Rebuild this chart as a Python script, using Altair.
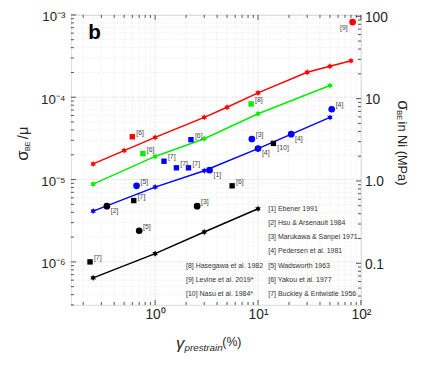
import math
import altair as alt
import pandas as pd

# ---------------- data ----------------
red_x = [0.25, 0.5, 1, 3, 5, 10, 30, 50, 80]
red_y = [1.55e-5, 2.25e-5, 3.25e-5, 5.7e-5, 7.55e-5, 1.13e-4, 2.01e-4, 2.38e-4, 2.77e-4]
green_x = [0.25, 1, 3, 10, 50]
green_y = [8.8e-6, 1.91e-5, 3.13e-5, 6.3e-5, 1.39e-4]
blue_x = [0.25, 1, 3, 10, 50]
blue_y = [4.14e-6, 8.1e-6, 1.28e-5, 2.38e-5, 5.69e-5]
black_x = [0.25, 1, 3, 10]
black_y = [6.4e-7, 1.26e-6, 2.31e-6, 4.42e-6]

circle_x = [83, 3.38, 10, 21, 52, 8.7, 0.66, 0.34, 0.70, 2.56]
circle_y = [8.18e-4, 1.30e-5, 2.38e-5, 3.56e-5, 7.15e-5, 3.11e-5, 8.39e-6, 4.75e-6, 2.39e-6, 4.75e-6]
circle_ref = ["[9]", "[1]", "[4]", "[4]", "[4]", "[3]", "[5]", "[2]", "[5]", "[3]"]
circle_color = ["red", "blue", "blue", "blue", "blue", "blue", "blue", "black", "black", "black"]
circle_side = ["LL", "LR", "LR", "LR", "UR", "UR", "UR", "LR", "UR", "UR"]

square_x = [0.60, 0.76, 8.57, 2.23, 1.22, 1.61, 2.11, 0.233, 0.62, 5.6, 14.1]
square_y = [3.31e-5, 2.07e-5, 8.28e-5, 3.05e-5, 1.67e-5, 1.39e-5, 1.39e-5, 1.0e-6, 5.56e-6, 8.4e-6, 2.75e-5]
square_ref = ["[6]", "[6]", "[8]", "[6]", "[7]", "[7]", "[7]", "[7]", "[7]", "[6]", "[10]"]
square_color = ["red", "green", "green", "blue", "blue", "blue", "blue", "black", "black", "black", "black"]
square_side = ["UR", "UR", "UR", "UR", "UR", "UR", "UR", "UR", "UR", "UR", "LR"]

legend_right = ["[1] Ebener 1991", "[2] Hsu & Arsenault 1984", "[3] Marukawa & Sanpei 1971",
                "[4] Pedersen et al. 1981", "[5] Wadsworth 1963", "[6] Yakou et al. 1977",
                "[7] Buckley & Entwistle 1956"]
legend_left = ["[8] Hasegawa et al. 1982", "[9] Levine et al. 2019*", "[10] Nasu et al. 1984*"]

x_tick_values = [1, 10, 100]
x_tick_labels = ["10⁰", "10¹", "10²"]
y_tick_values = [1e-6, 1e-5, 1e-4, 1e-3]
y_tick_labels = ["10⁻⁶", "10⁻⁵", "10⁻⁴", "10⁻³"]
mpa_tick_values = [0.1, 1, 10, 100]
mpa_tick_labels = ["0.1", "1.0", "10", "100"]

# ---------------- layout / style ----------------
W, H = 295, 295
MU = 1.04e5           # shear modulus used for the right-hand MPa axis
XDOM = [0.152, 100]
YDOM = [3e-7, 1e-3]
FONT = "Liberation Sans"
AX = "#262626"
COLORS = {"red": "#ff0000", "green": "#00ee00", "blue": "#0000ff", "black": "#000000"}


def label_expr(values, labels):
    parts = [f"abs(log(datum.value)/LN10 - ({math.log10(v):.4f})) < 0.01 ? '{l}'"
             for v, l in zip(values, labels)]
    return " : ".join(parts) + " : ''"


xscale = alt.Scale(type="log", domain=XDOM, nice=False)
yscale = alt.Scale(type="log", domain=YDOM, nice=False)
xaxis = alt.Axis(values=x_tick_values, labelExpr=label_expr(x_tick_values, x_tick_labels),
                 title=None, ticks=False, domain=False, grid=False, labelFlush=False,
                 labelOverlap=False, labelFont=FONT, labelFontSize=14, labelColor=AX,
                 labelPadding=3)
yaxis = alt.Axis(values=y_tick_values, labelExpr=label_expr(y_tick_values, y_tick_labels),
                 title=None, ticks=False, domain=False, grid=False, labelFlush=False,
                 labelOverlap=False, labelFont=FONT, labelFontSize=13.5, labelColor=AX,
                 labelPadding=6, labelOffset=2)


def X(f="x"):
    return alt.X(f"{f}:Q", scale=xscale, axis=xaxis)


def Y(f="y"):
    return alt.Y(f"{f}:Q", scale=yscale, axis=yaxis)


# star marker path (hexagram-like)
pts = []
for i in range(12):
    a = math.radians(-90 + 30 * i)
    r = 1.0 if i % 2 == 0 else 0.55
    pts.append(f"{r * math.cos(a):.3f},{r * math.sin(a):.3f}")
STAR = "M" + " L".join(pts) + " Z"

# ---------------- tables ----------------
rows = []
for name, xs, ys in [("red", red_x, red_y), ("green", green_x, green_y),
                     ("blue", blue_x, blue_y), ("black", black_x, black_y)]:
    for xv, yv in zip(xs, ys):
        rows.append({"s": name, "x": xv, "y": yv, "col": COLORS[name]})
line_df = pd.DataFrame(rows)

circ_df = pd.DataFrame({"x": circle_x, "y": circle_y, "ref": circle_ref,
                        "col": [COLORS[c] for c in circle_color], "side": circle_side})
sq_df = pd.DataFrame({"x": square_x, "y": square_y, "ref": square_ref,
                      "col": [COLORS[c] for c in square_color], "side": square_side})
lab_df = pd.concat([circ_df, sq_df], ignore_index=True)


def decade_ticks(lo, hi):
    out = []
    for k in range(math.floor(math.log10(lo)) - 1, math.ceil(math.log10(hi)) + 1):
        for m in range(1, 10):
            v = m * 10.0 ** k
            if lo * 0.999 <= v <= hi * 1.001:
                out.append({"v": v, "major": m == 1})
    return pd.DataFrame(out)


gx = decade_ticks(*XDOM)
gy = decade_ticks(*YDOM)
gm = decade_ticks(YDOM[0] * MU, YDOM[1] * MU)
gm["y"] = gm["v"] / MU
mpa_df = pd.DataFrame({"y": [v / MU for v in mpa_tick_values], "t": mpa_tick_labels})

LEG_DY = 14.45
leg_rows = []
for i, t in enumerate(legend_right):
    leg_rows.append({"t": t, "px": 200.7, "py": 197.3 + LEG_DY * i})
for i, t in enumerate(legend_left):
    leg_rows.append({"t": t, "px": 117.0, "py": 197.3 + LEG_DY * (i + 4)})
leg_df = pd.DataFrame(leg_rows)

# ---------------- layers ----------------
layers = []
# grid
for major, col, dash, sw in [(False, "#e4e4e4", [1, 1.5], 0.8), (True, "#d2d2d2", [1, 1], 0.8)]:
    layers.append(alt.Chart(gx[gx.major == major]).mark_rule(color=col, strokeDash=dash, strokeWidth=sw)
                  .encode(x=X("v"), y=alt.value(0), y2=alt.value(H)))
    layers.append(alt.Chart(gy[gy.major == major]).mark_rule(color=col, strokeDash=dash, strokeWidth=sw)
                  .encode(y=Y("v"), x=alt.value(0), x2=alt.value(W)))

# inward ticks
for major, ln in [(True, 5), (False, 3)]:
    layers.append(alt.Chart(gx[gx.major == major]).mark_rule(color=AX, strokeWidth=0.8)
                  .encode(x=X("v"), y=alt.value(H), y2=alt.value(H - ln)))
    layers.append(alt.Chart(gx[gx.major == major]).mark_rule(color=AX, strokeWidth=0.8)
                  .encode(x=X("v"), y=alt.value(0), y2=alt.value(ln)))
    layers.append(alt.Chart(gy[gy.major == major]).mark_rule(color=AX, strokeWidth=0.8)
                  .encode(y=Y("v"), x=alt.value(0), x2=alt.value(ln)))
    layers.append(alt.Chart(gm[gm.major == major]).mark_rule(color=AX, strokeWidth=0.8)
                  .encode(y=Y("y"), x=alt.value(W), x2=alt.value(W - ln)))

# right-hand MPa labels
layers.append(alt.Chart(mpa_df).mark_text(align="left", baseline="middle", font=FONT, fontSize=14,
                                          color=AX, dx=4, dy=1.5)
              .encode(y=Y("y"), x=alt.value(W), text="t:N"))

# lines and markers
layers.append(alt.Chart(line_df).mark_line(strokeWidth=1.5)
              .encode(x=X(), y=Y(), color=alt.Color("col:N", scale=None), detail="s:N"))
layers.append(alt.Chart(line_df).mark_point(shape=STAR, filled=True, size=42, opacity=1)
              .encode(x=X(), y=Y(), color=alt.Color("col:N", scale=None)))
layers.append(alt.Chart(circ_df).mark_circle(size=46, opacity=1)
              .encode(x=X(), y=Y(), color=alt.Color("col:N", scale=None)))
layers.append(alt.Chart(sq_df).mark_square(size=30, opacity=1)
              .encode(x=X(), y=Y(), color=alt.Color("col:N", scale=None)))

# reference labels next to markers
for side, dx, dy, align in [("UR", 4, -4, "left"), ("LR", 4, 5, "left"), ("LL", -5, 6, "right")]:
    sub = lab_df[lab_df.side == side]
    layers.append(alt.Chart(sub).mark_text(align=align, baseline="middle", dx=dx, dy=dy,
                                           font=FONT, fontSize=7, color="#444444")
                  .encode(x=X(), y=Y(), text="ref:N"))

# legend text
layers.append(alt.Chart(leg_df).mark_text(align="left", baseline="middle", font=FONT,
                                          fontSize=7.1, color="#333333")
              .encode(x=alt.X("px:Q", scale=None), y=alt.Y("py:Q", scale=None), text="t:N"))


def text_at(t, px, py, **kw):
    style = dict(font=FONT, color=AX, align="center", baseline="middle")
    style.update(kw)
    return (alt.Chart(pd.DataFrame({"t": [t]})).mark_text(**style)
            .encode(x=alt.value(px), y=alt.value(py), text="t:N"))


# panel letter
layers.append(text_at("b", 24, 19, fontSize=21, fontWeight="bold", color="#000000"))
# left title: σ_BE / μ
layers.append(text_at("σ", -48.5, 143, fontSize=17, angle=270))
layers.append(text_at("BE", -44, 133.5, fontSize=7.5, angle=270))
layers.append(text_at("/μ", -48.5, 120, fontSize=15, angle=270))
# right title: σ_BE in Ni (MPa)
layers.append(text_at("σ", 338, 92, fontSize=17, angle=90))
layers.append(text_at("BE", 334, 102, fontSize=7.5, angle=90))
layers.append(text_at("in Ni (MPa)", 336.5, 108.5, fontSize=13, angle=90, align="left"))
# x title: γ_prestrain (%)
layers.append(text_at("γ", 111, 335, fontSize=17, fontStyle="italic"))
layers.append(text_at("prestrain", 115.5, 339, fontSize=10, fontStyle="italic", align="left"))
layers.append(text_at("(%)", 154, 333, fontSize=12.5, align="left"))

chart = (alt.layer(*layers)
         .properties(width=W, height=H,
                     autosize=alt.AutoSizeParams(type="none"),
                     padding={"left": 64, "top": 4, "right": 56, "bottom": 55})
         .configure_view(stroke=AX, strokeWidth=1)
         .configure(background="white"))

chart.save("out.html", embed_options={"renderer": "svg", "actions": False})
